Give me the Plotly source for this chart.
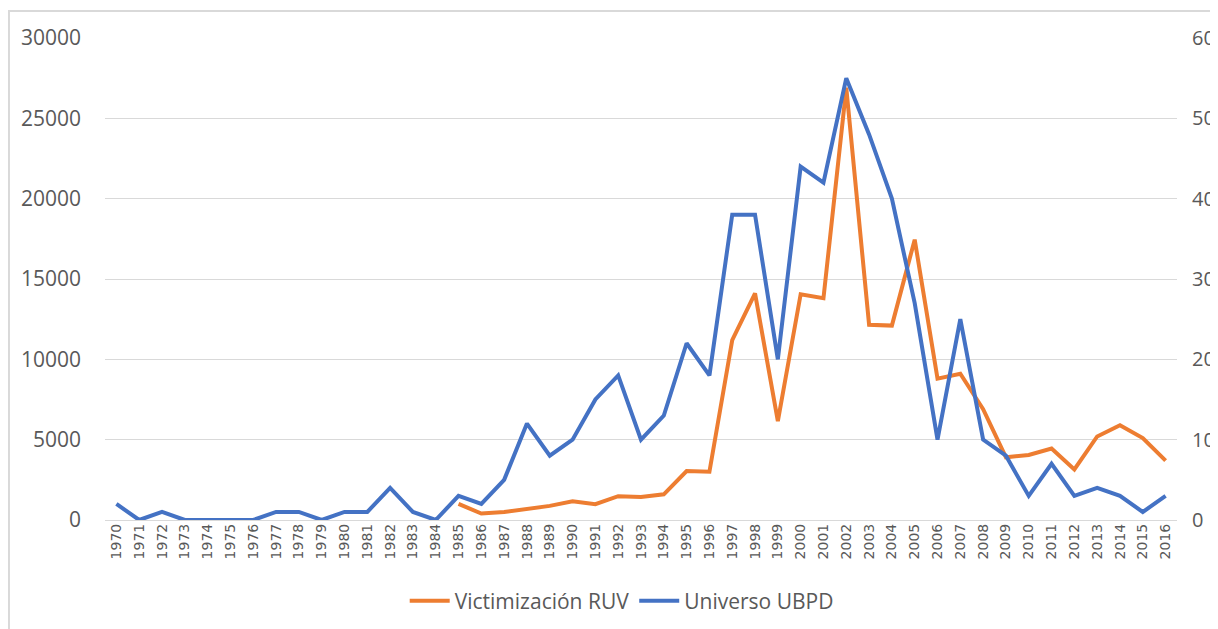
import plotly.graph_objects as go

years = [str(y) for y in range(1970, 2017)]

ruv_years = [str(y) for y in range(1985, 2017)]
ruv_values = [1000, 400, 500, 720, 880, 1170, 980, 1480, 1430, 1600, 3050, 3000,
              11200, 14100, 6150, 14050, 13800, 26900, 12150, 12100, 17450, 8800,
              9100, 6900, 3900, 4050, 4450, 3150, 5200, 5900, 5100, 3700]

ubpd_values = [2, 0, 1, 0, 0, 0, 0, 1, 1, 0, 1, 1, 4, 1, 0, 3, 2, 5, 12, 8, 10, 15,
               18, 10, 13, 22, 18, 38, 38, 20, 44, 42, 55, 48, 40, 27, 10, 25, 10, 8,
               3, 7, 3, 4, 3, 1, 3]

orange = "#ED7D31"
blue = "#4472C4"
grid = "#D9D9D9"
txt = "#595959"

fig = go.Figure()
fig.add_trace(go.Scatter(x=ruv_years, y=ruv_values, name="Victimización RUV",
                         mode="lines", line=dict(color=orange, width=4), yaxis="y"))
fig.add_trace(go.Scatter(x=years, y=ubpd_values, name="Universo UBPD",
                         mode="lines", line=dict(color=blue, width=4), yaxis="y2"))

fig.update_layout(
    width=1210, height=621,
    margin=dict(l=97, r=41, t=30, b=109, autoexpand=False),
    paper_bgcolor="white", plot_bgcolor="white",
    font=dict(family="Open Sans", color=txt),
    xaxis=dict(type="category", categoryorder="array", categoryarray=years,
               range=[-0.5, 46.5], tickangle=-90, showgrid=False, automargin=False,
               tickfont=dict(family="DejaVu Sans", size=14, color=txt),
               showline=False, ticks="", ticklen=0),
    yaxis=dict(range=[0, 30000], dtick=5000, showgrid=True, gridcolor=grid,
               gridwidth=1, zeroline=True, zerolinecolor=grid, zerolinewidth=1,
               tickfont=dict(size=21, color=txt), ticklabelstandoff=23,
               tickformat="d", showline=False, automargin=False),
    yaxis2=dict(range=[0, 60], dtick=10, overlaying="y", side="right",
                showgrid=False, zeroline=False, tickfont=dict(size=20, color=txt),
                ticklabelstandoff=14, showline=False, automargin=False),
    legend=dict(orientation="h", x=0.482, xanchor="center", y=-0.168, yanchor="middle",
                font=dict(size=21, color=txt), itemwidth=40, bgcolor="rgba(0,0,0,0)"),
    shapes=[dict(type="rect", xref="paper", yref="paper",
                 x0=-0.0896, x1=1.04, y0=-0.23, y1=1.056,
                 line=dict(color="#D9D9D9", width=2), layer="below")],
)

fig.write_html("out.html")
